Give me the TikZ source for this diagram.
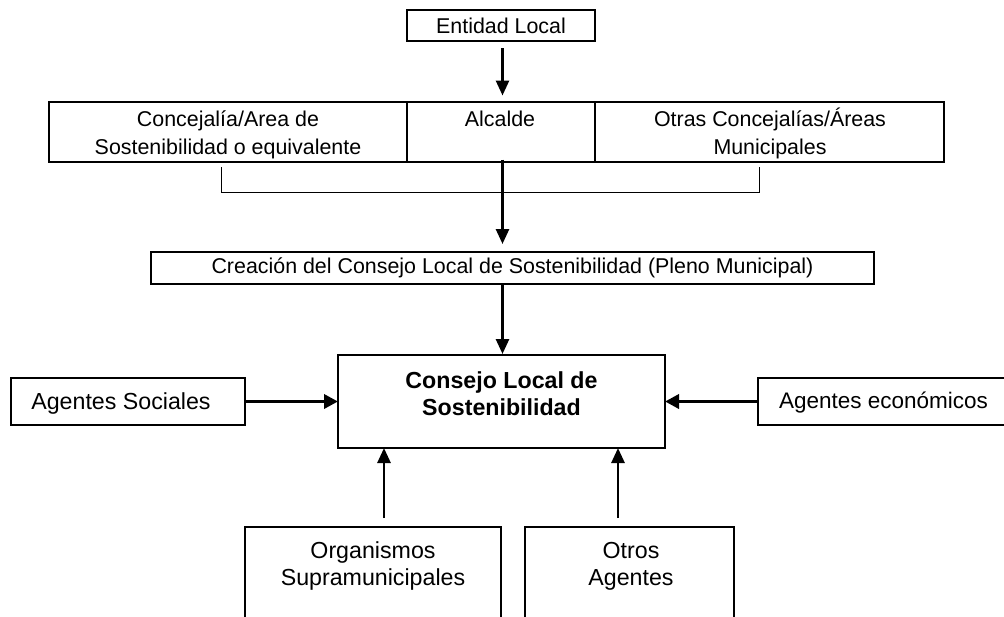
\documentclass[tikz,border=0pt]{standalone}
\usepackage{fontspec}
\setmainfont{Liberation Sans}
\usetikzlibrary{arrows.meta}
\begin{document}
\begin{tikzpicture}[x=1pt,y=-1pt,
  box/.style={draw, line width=2pt, inner sep=0pt, outer sep=0pt},
  txt/.style={font=\fontsize{21.4}{27.5}\selectfont, align=center, inner sep=0pt},
  btxt/.style={font=\fontsize{23.2}{27}\selectfont, align=center, inner sep=0pt},
  arr/.style={line width=2.7pt, -{Triangle[length=15pt,width=13pt]}},
  arrh/.style={line width=3.5pt, -{Triangle[length=14pt,width=14pt]}},
  brk/.style={line width=1pt}]
\useasboundingbox (0,0) rectangle (1004,616);
% top box
\node[box, txt, minimum width=188pt, minimum height=31pt] (ent) at (501,25.5) {Entidad Local};
% row of three cells
\node[box, minimum width=358pt, minimum height=60pt] (c1) at (228,131.5) {};
\node[box, minimum width=188pt, minimum height=60pt] (c2) at (501,131.5) {};
\node[box, minimum width=349pt, minimum height=60pt] (c3) at (769.5,131.5) {};
\node[txt] (c1t) at (228,135) {Concejalía/Area de\\Sostenibilidad o equivalente};
\node[txt] (c2t) at (500,119) {Alcalde};
\node[txt] (c3t) at (770,133.5) {Otras Concejalías/Áreas\\Municipales};
% bracket
\coordinate (brL) at (221,167);
\coordinate (brR) at (759,167);
\coordinate (brB) at (500,192);
\draw[brk] (brL) -- (brL |- brB) -- (brR |- brB) -- (brR);
% creation box
\node[box, txt, minimum width=723pt, minimum height=32pt] (crea) at (512.5,268) {Creación del Consejo Local de Sostenibilidad (Pleno Municipal)};
% council
\node[box, minimum width=327pt, minimum height=93pt] (cons) at (501.5,401.5) {};
\node[btxt, font=\fontsize{23.2}{26.5}\selectfont\bfseries] (const) at (501.5,393.5) {Consejo Local de\\Sostenibilidad};
% side agents
\node[box, minimum width=234pt, minimum height=47pt] (as) at (128,401.5) {};
\node[btxt] (ast) at (121,403) {Agentes Sociales};
\node[box, minimum width=252pt, minimum height=47pt] (ae) at (884,401.5) {};
\node[btxt, font=\fontsize{22.5}{27}\selectfont] (aet) at (883.5,403) {Agentes económicos};
% bottom boxes
\node[box, minimum width=256pt, minimum height=113pt] (org) at (373,583.5) {};
\node[btxt] (orgt) at (373,566) {Organismos\\Supramunicipales};
\node[box, minimum width=209pt, minimum height=113pt] (otr) at (629.5,583.5) {};
\node[btxt] (otrt) at (631,566) {Otros\\Agentes};
% connectors
\draw[arr, shorten <=7pt, shorten >=6pt] ([xshift=1.5pt]ent.south) -- ([xshift=1.5pt]ent.south |- c2.north);
\draw[arr, shorten >=6pt] ([xshift=1.5pt,yshift=2pt]c2.south) -- ([xshift=1.5pt,yshift=2pt]c2.south |- crea.north);
\draw[arr, shorten >=1pt] ([xshift=1pt]cons.north |- crea.south) -- ([xshift=1pt]cons.north);
\draw[arrh] (as.east) -- (cons.west |- as.east);
\draw[arrh] (ae.west) -- (cons.east |- ae.west);
\draw[arr, shorten <=9pt] ([xshift=11pt]org.north) -- ([xshift=11pt]org.north |- cons.south);
\draw[arr, shorten <=9pt] ([xshift=-11.5pt]otr.north) -- ([xshift=-11.5pt]otr.north |- cons.south);
\end{tikzpicture}
\end{document}
